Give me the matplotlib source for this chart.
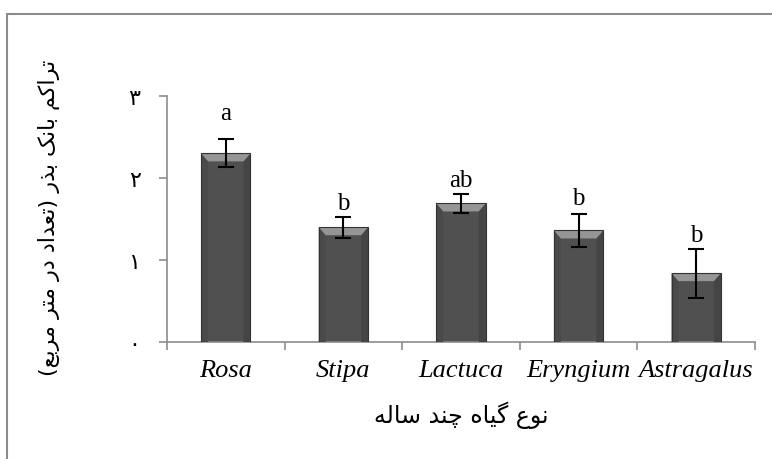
import matplotlib
matplotlib.use("Agg")
import matplotlib.pyplot as plt
from matplotlib.patches import Polygon, Rectangle

# ---- data ----
species = ["Rosa", "Stipa", "Lactuca", "Eryngium", "Astragalus"]
seed_bank = [2.30, 1.40, 1.69, 1.36, 0.84]
std_err = [0.17, 0.13, 0.12, 0.20, 0.30]
groups = ["a", "b", "ab", "b", "b"]
y_ticks = [0, 1, 2, 3]
y_tick_labels = ["۰", "۱", "۲", "۳"]
y_title = "تراکم بانک بذر (تعداد در متر مربع)"
x_title = "نوع گیاه چند ساله"

# ---- minimal Persian shaping (matplotlib has no text shaping) ----
# isolated, final, initial, medial
FORMS = {
    "\u0627": ("\uFE8D", "\uFE8E", None, None),        # alef
    "\u0628": ("\uFE8F", "\uFE90", "\uFE91", "\uFE92"),  # beh
    "\u062A": ("\uFE95", "\uFE96", "\uFE97", "\uFE98"),  # teh
    "\u062F": ("\uFEA9", "\uFEAA", None, None),        # dal
    "\u0630": ("\uFEAB", "\uFEAC", None, None),        # thal
    "\u0631": ("\uFEAD", "\uFEAE", None, None),        # reh
    "\u0632": ("\uFEAF", "\uFEB0", None, None),        # zain
    "\u0633": ("\uFEB1", "\uFEB2", "\uFEB3", "\uFEB4"),  # seen
    "\u0639": ("\uFEC9", "\uFECA", "\uFECB", "\uFECC"),  # ain
    "\u0644": ("\uFEDD", "\uFEDE", "\uFEDF", "\uFEE0"),  # lam
    "\u0645": ("\uFEE1", "\uFEE2", "\uFEE3", "\uFEE4"),  # meem
    "\u0646": ("\uFEE5", "\uFEE6", "\uFEE7", "\uFEE8"),  # noon
    "\u0647": ("\uFEE9", "\uFEEA", "\uFEEB", "\uFEEC"),  # heh
    "\u0648": ("\uFEED", "\uFEEE", None, None),        # waw
    "\u0686": ("\uFB7A", "\uFB7B", "\uFB7C", "\uFB7D"),  # tcheh
    "\u06A9": ("\uFB8E", "\uFB8F", "\uFB90", "\uFB91"),  # keheh
    "\u06AF": ("\uFB92", "\uFB93", "\uFB94", "\uFB95"),  # gaf
    "\u06CC": ("\uFBFC", "\uFBFD", "\uFBFE", "\uFBFF"),  # farsi yeh
}


def shape_fa(text):
    out = []
    for i, ch in enumerate(text):
        f = FORMS.get(ch)
        if f is None:
            out.append(ch)
            continue
        prev = text[i - 1] if i > 0 else ""
        nxt = text[i + 1] if i + 1 < len(text) else ""
        join_prev = prev in FORMS and FORMS[prev][2] is not None
        join_next = f[2] is not None and nxt in FORMS
        if join_prev and join_next:
            out.append(f[3])
        elif join_prev:
            out.append(f[1])
        elif join_next:
            out.append(f[2])
        else:
            out.append(f[0])
    visual = "".join(out)[::-1]
    return visual.translate(str.maketrans("()", ")("))


FA_FONT = ["DejaVu Sans"]
LAT_FONT = ["Liberation Serif", "DejaVu Serif"]
AXIS_GRAY = "#8c8c8c"

fig = plt.figure(figsize=(7.72, 4.60), dpi=100)
ax = fig.add_axes([167 / 772, 1 - 343 / 460, 588 / 772, 246 / 460])

# outer chart frame (cropped on the right and bottom)
fig.patches.append(Rectangle((7 / 772, -0.2), 1.3, 1.2 - 14.5 / 460,
                             transform=fig.transFigure, fill=False,
                             edgecolor=AXIS_GRAY, linewidth=1.5))

x = list(range(len(species)))
bar_w = 0.42
ax.set_xlim(-0.5, len(species) - 0.5)
ax.set_ylim(0, 3)

# pixel -> data scale for the bevel
px_x = len(species) / 588
px_y = 3 / 246

bars = ax.bar(x, seed_bank, width=bar_w, color="#505050",
              edgecolor="none", zorder=2)
for b in bars:
    x0, w, h = b.get_x(), b.get_width(), b.get_height()
    bev_x, bev_y = 7 * px_x, 8 * px_y
    # darker side strips of the bevel
    ax.add_patch(Polygon([(x0, h), (x0 + bev_x, h - bev_y), (x0 + bev_x, 0), (x0, 0)],
                         closed=True, facecolor="#4a4a4a", edgecolor="none", zorder=3))
    ax.add_patch(Polygon([(x0 + w, h), (x0 + w - bev_x, h - bev_y), (x0 + w - bev_x, 0), (x0 + w, 0)],
                         closed=True, facecolor="#454545", edgecolor="none", zorder=3))
    # light top bevel
    ax.add_patch(Polygon([(x0, h), (x0 + w, h), (x0 + w - bev_x, h - bev_y),
                          (x0 + bev_x, h - bev_y)], closed=True,
                         facecolor="#959595", edgecolor="none", zorder=3))
    ax.add_patch(Rectangle((x0, 0), w, h, fill=False, edgecolor="#333333",
                           linewidth=0.8, zorder=4))

ax.errorbar(x, seed_bank, yerr=std_err, fmt="none", ecolor="black",
            elinewidth=1.5, capsize=6, capthick=1.5, zorder=5)

letter_pad_px = [20, 8, 8, 10, 8]
for xi, m, e, g, pad in zip(x, seed_bank, std_err, groups, letter_pad_px):
    ax.annotate(g, (xi, m + e), xytext=(0, pad * 72 / 100), textcoords="offset points",
                ha="center", va="baseline", fontsize=18, family=LAT_FONT)

# axes styling
for side in ("top", "right"):
    ax.spines[side].set_visible(False)
for side in ("left", "bottom"):
    ax.spines[side].set_color(AXIS_GRAY)
    ax.spines[side].set_linewidth(1.2)

ax.set_yticks(y_ticks)
ax.set_yticklabels(y_tick_labels, family=FA_FONT, fontsize=16)
ax.tick_params(axis="y", direction="out", length=6, width=1.2, color=AXIS_GRAY, pad=13)

ax.set_xticks(x)
ax.set_xticklabels(species, family=LAT_FONT, style="italic", fontsize=19)
ax.set_xticks([i - 0.5 for i in range(len(species) + 1)], minor=True)
ax.tick_params(axis="x", which="major", length=0, pad=12)
ax.tick_params(axis="x", which="minor", direction="out", length=6, width=1.2, color=AXIS_GRAY)

ax.set_xlabel(shape_fa(x_title), family=FA_FONT, fontsize=17, labelpad=14)
fig.text(49 / 772, 1 - 218 / 460, shape_fa(y_title), family=FA_FONT, fontsize=16,
         rotation=90, ha="center", va="center")

fig.savefig("out.png", dpi=100)
